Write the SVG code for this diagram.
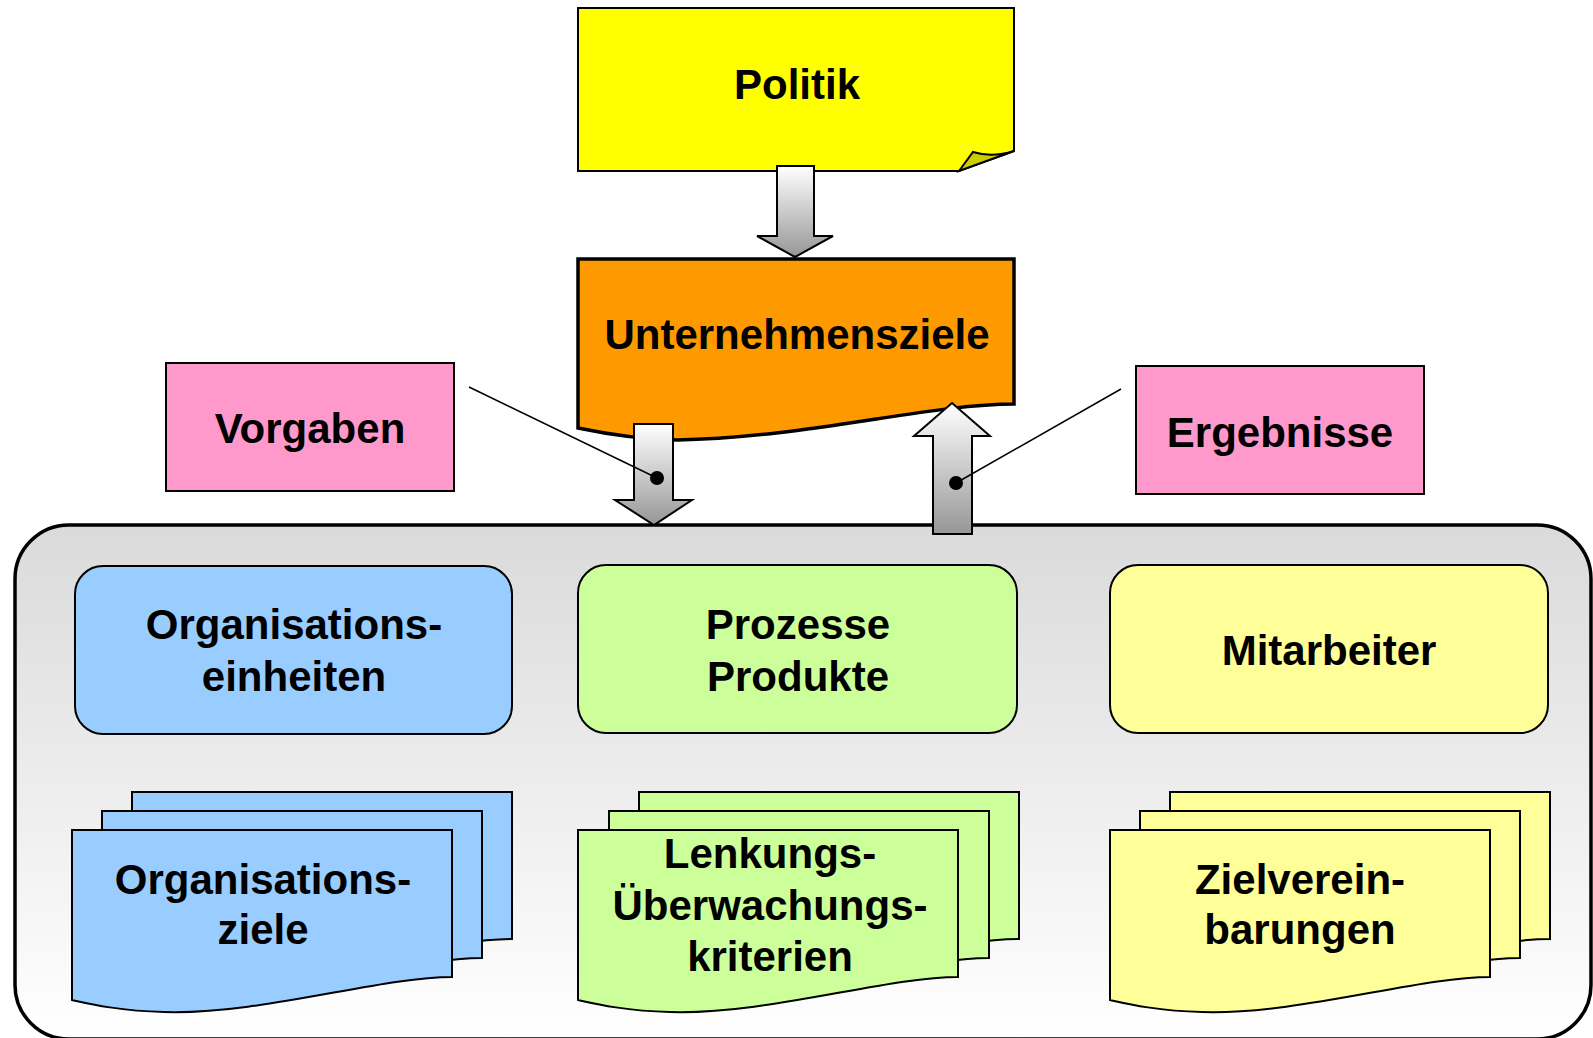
<svg xmlns="http://www.w3.org/2000/svg" width="1593" height="1038" viewBox="0 0 1593 1038">
<style>
text{font-family:"Liberation Sans",Arial,sans-serif;font-weight:bold;font-size:42px;fill:#000;text-anchor:middle}
.s{stroke:#000;stroke-width:2}
.arrow{fill:url(#ag);stroke:#000;stroke-width:2;stroke-linejoin:miter}
.blue{fill:#99ccff}
.green{fill:#ccff99}
.ylw{fill:#ffff99}
</style>
<defs>
<linearGradient id="ag" x1="0" y1="0" x2="0" y2="1">
<stop offset="0" stop-color="#ffffff"/>
<stop offset="1" stop-color="#969696"/>
</linearGradient>
<linearGradient id="cg" x1="0" y1="0" x2="0" y2="1">
<stop offset="0" stop-color="#dadada"/>
<stop offset="1" stop-color="#ffffff"/>
</linearGradient>
</defs>
<rect width="1593" height="1038" fill="#fff"/>

<g id="container">
<rect x="15" y="525" width="1576" height="514" rx="54" ry="54" fill="url(#cg)" stroke="#000" stroke-width="3.5"/>
</g>

<g id="politik">
<path d="M578,8 H1014 V151 L959,171 H578 Z" fill="#ffff00" class="s"/>
<path d="M959,171 L973,152 Q992,158 1014,151 Z" fill="#cccc00" class="s"/>
<text x="797" y="99">Politik</text>
</g>

<g id="unternehmensziele">
<path d="M578,259 H1014 V404 c-84,0 -210,34 -337,36 c-44,-1 -80,-8 -99,-12 Z" fill="#ff9900" stroke="#000" stroke-width="3.5"/>
<text x="797" y="349">Unternehmensziele</text>
</g>

<g id="vorgaben">
<rect x="166" y="363" width="288" height="128" fill="#ff99cc" class="s"/>
<text x="310" y="443">Vorgaben</text>
</g>

<g id="ergebnisse">
<rect x="1136" y="366" width="288" height="128" fill="#ff99cc" class="s"/>
<text x="1280" y="447">Ergebnisse</text>
</g>

<g id="organisationseinheiten">
<rect x="75" y="566" width="437" height="168" rx="28" ry="28" class="blue s"/>
<text x="294" y="639">Organisations-</text>
<text x="294" y="691">einheiten</text>
</g>

<g id="prozesse">
<rect x="578" y="565" width="439" height="168" rx="28" ry="28" class="green s"/>
<text x="798" y="639">Prozesse</text>
<text x="798" y="691">Produkte</text>
</g>

<g id="mitarbeiter">
<rect x="1110" y="565" width="438" height="168" rx="28" ry="28" class="ylw s"/>
<text x="1329" y="665">Mitarbeiter</text>
</g>

<g id="organisationsziele">
<path d="M132,792 h380 v147 c-72,0 -192,38 -288,35 c-44,-1 -74,-8 -92,-12 z" class="blue s"/>
<path d="M102,811 h380 v147 c-72,0 -192,38 -288,35 c-44,-1 -74,-8 -92,-12 z" class="blue s"/>
<path d="M72,830 h380 v147 c-72,0 -192,38 -288,35 c-44,-1 -74,-8 -92,-12 z" class="blue s"/>
<text x="263" y="894">Organisations-</text>
<text x="263" y="944">ziele</text>
</g>

<g id="kriterien">
<path d="M639,792 h380 v147 c-72,0 -192,38 -288,35 c-44,-1 -74,-8 -92,-12 z" class="green s"/>
<path d="M609,811 h380 v147 c-72,0 -192,38 -288,35 c-44,-1 -74,-8 -92,-12 z" class="green s"/>
<path d="M578,830 h380 v147 c-72,0 -192,38 -288,35 c-44,-1 -74,-8 -92,-12 z" class="green s"/>
<text x="770" y="868">Lenkungs-</text>
<text x="770" y="920">Überwachungs-</text>
<text x="770" y="971">kriterien</text>
</g>

<g id="zielvereinbarungen">
<path d="M1170,792 h380 v147 c-72,0 -192,38 -288,35 c-44,-1 -74,-8 -92,-12 z" class="ylw s"/>
<path d="M1140,811 h380 v147 c-72,0 -192,38 -288,35 c-44,-1 -74,-8 -92,-12 z" class="ylw s"/>
<path d="M1110,830 h380 v147 c-72,0 -192,38 -288,35 c-44,-1 -74,-8 -92,-12 z" class="ylw s"/>
<text x="1300" y="894">Zielverein-</text>
<text x="1300" y="944">barungen</text>
</g>

<g id="connectors">
<path class="arrow" d="M777,166 H814 V236 H833 L795,257 L757,236 H777 Z"/>
<path class="arrow" d="M634,424 H673 V500 H692 L654,525 L615,500 H634 Z"/>
<path class="arrow" d="M952,403 L990,436 H972 V534 H933 V436 H914 Z"/>
<line x1="469" y1="387" x2="657" y2="478" stroke="#000" stroke-width="1.5"/>
<line x1="1121" y1="389" x2="956" y2="483" stroke="#000" stroke-width="1.5"/>
<circle cx="657" cy="478" r="7"/>
<circle cx="956" cy="483" r="7"/>
</g>
</svg>
